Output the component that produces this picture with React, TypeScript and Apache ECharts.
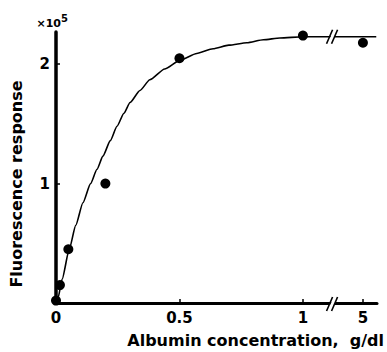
import React, { useEffect, useRef } from "react";
import * as echarts from "echarts";

// ---- data ----
const xTickValues = [0, 0.5, 1, 5];
const xTickLabels = ["0", "0.5", "1", "5"];
const yTickValues = [1, 2];
const yTickLabels = ["1", "2"];

// measured points: albumin (g/dl) vs fluorescence (x10^5)
const measuredX = [0, 0.016, 0.05, 0.2, 0.5, 1, 5];
const measuredY = [0.02, 0.15, 0.45, 1.0, 2.05, 2.24, 2.18];

// fitted curve
const fitX = [0, 0.008, 0.025, 0.053, 0.08, 0.109, 0.14, 0.166, 0.19, 0.22, 0.247, 0.275, 0.3, 0.34, 0.38, 0.44, 0.5, 0.57, 0.636, 0.7, 0.773, 0.84, 0.907, 1.0, 5.45];
const fitY = [0, 0.04, 0.2, 0.445, 0.65, 0.84, 1.0, 1.12, 1.23, 1.36, 1.48, 1.59, 1.68, 1.78, 1.87, 1.96, 2.03, 2.09, 2.13, 2.16, 2.18, 2.205, 2.22, 2.23, 2.23];

const xTitle = "Albumin concentration,  g/dl";
const yTitle = "Fluorescence response";
const yScaleBase = "×10";
const yScaleExp = "5";

// ---- layout of the broken x axis (positions, not data) ----
const FIVE_POS = 1.243; // where "5" sits on the drawn axis
const AFTER_SCALE = 0.12;
const BREAK_POS = 1.12;
const X_MAX_POS = 1.3;
const Y_MAX = 2.27;

const pos = (x: number) => (x <= 1 ? x : FIVE_POS + (x - 5) * AFTER_SCALE);

const FONT = "DejaVu Sans";

export default function App() {
  const ref = useRef<HTMLDivElement>(null);

  useEffect(() => {
    if (!ref.current) return;
    const chart = echarts.init(ref.current, null, { renderer: "svg" });
    const tickPos = xTickValues.map(pos);
    const labelFor = (v: number) => {
      const i = tickPos.findIndex((p) => Math.abs(p - v) < 1e-6);
      return i >= 0 ? xTickLabels[i] : "";
    };
    chart.setOption({
      animation: false,
      backgroundColor: "#fff",
      grid: { left: 56, right: 10, top: 32, bottom: 49, containLabel: false },
      xAxis: {
        type: "value",
        min: 0,
        max: X_MAX_POS,
        splitLine: { show: false },
        axisLine: { show: true, onZero: false, lineStyle: { color: "#000", width: 3 } },
        axisTick: {
          show: true,
          inside: true,
          length: 4,
          customValues: tickPos.slice(1),
          lineStyle: { color: "#000", width: 1.5 },
        },
        axisLabel: {
          customValues: tickPos,
          formatter: (v: number) => labelFor(v),
          color: "#000",
          fontFamily: FONT,
          fontWeight: "bold",
          fontSize: 15,
          margin: 7,
        },
      },
      yAxis: {
        type: "value",
        min: 0,
        max: Y_MAX,
        splitLine: { show: false },
        axisLine: { show: true, lineStyle: { color: "#000", width: 3.5 } },
        axisTick: {
          show: true,
          inside: true,
          length: 4,
          customValues: yTickValues,
          lineStyle: { color: "#000", width: 1.5 },
        },
        axisLabel: {
          customValues: yTickValues,
          formatter: (v: number) => {
            const i = yTickValues.indexOf(Math.round(v * 1000) / 1000);
            return i >= 0 ? yTickLabels[i] : "";
          },
          color: "#000",
          fontFamily: FONT,
          fontWeight: "bold",
          fontSize: 15,
          margin: 6,
        },
      },
      series: [
        {
          type: "line",
          data: fitX.map((x, i) => [pos(x), fitY[i]]),
          smooth: 0.2,
          smoothMonotone: "x",
          showSymbol: false,
          lineStyle: { color: "#000", width: 1.6 },
          z: 2,
        },
        {
          type: "scatter",
          data: measuredX.map((x, i) => [pos(x), measuredY[i]]),
          symbolSize: 10,
          itemStyle: { color: "#000", opacity: 1 },
          z: 3,
        },
      ],
    });

    const breakMark = (cx: number, cy: number) => ({
      type: "group",
      children: [
        {
          type: "polygon",
          shape: { points: [[cx - 5, cy + 6], [cx + 1, cy - 6], [cx + 5, cy - 6], [cx - 1, cy + 6]] },
          style: { fill: "#fff" },
          z: 10,
        },
        {
          type: "line",
          shape: { x1: cx - 6, y1: cy + 7, x2: cx, y2: cy - 7 },
          style: { stroke: "#000", lineWidth: 1.6 },
          z: 11,
        },
        {
          type: "line",
          shape: { x1: cx - 1, y1: cy + 7, x2: cx + 5, y2: cy - 7 },
          style: { stroke: "#000", lineWidth: 1.6 },
          z: 11,
        },
      ],
    });

    const axisPt = chart.convertToPixel({ gridIndex: 0 }, [BREAK_POS, 0]) as number[];
    const curvePt = chart.convertToPixel({ gridIndex: 0 }, [BREAK_POS, fitY[fitY.length - 1]]) as number[];

    chart.setOption({
      graphic: [
        breakMark(axisPt[0], axisPt[1] + 1),
        breakMark(curvePt[0], curvePt[1]),
        {
          type: "text",
          x: 61,
          y: 29,
          style: {
            text: yScaleBase,
            fontFamily: FONT,
            fontWeight: "bold",
            fontSize: 11,
            fill: "#000",
            align: "right",
            verticalAlign: "bottom",
          },
        },
        {
          type: "text",
          x: 61,
          y: 13,
          style: {
            text: yScaleExp,
            fontFamily: FONT,
            fontWeight: "bold",
            fontSize: 10,
            fill: "#000",
            align: "left",
            verticalAlign: "top",
          },
        },
        {
          type: "text",
          x: 384,
          y: 340,
          style: {
            text: xTitle,
            fontFamily: FONT,
            fontWeight: "bold",
            fontSize: 16,
            fill: "#000",
            align: "right",
            verticalAlign: "middle",
          },
        },
        {
          type: "text",
          x: 16,
          y: 184,
          rotation: Math.PI / 2,
          style: {
            text: yTitle,
            fontFamily: FONT,
            fontWeight: "bold",
            fontSize: 16,
            fill: "#000",
            align: "center",
            verticalAlign: "middle",
          },
        },
      ],
    });

    return () => chart.dispose();
  }, []);

  return <div ref={ref} style={{ width: 387, height: 352, position: "absolute", left: 0, top: 0 }} />;
}
